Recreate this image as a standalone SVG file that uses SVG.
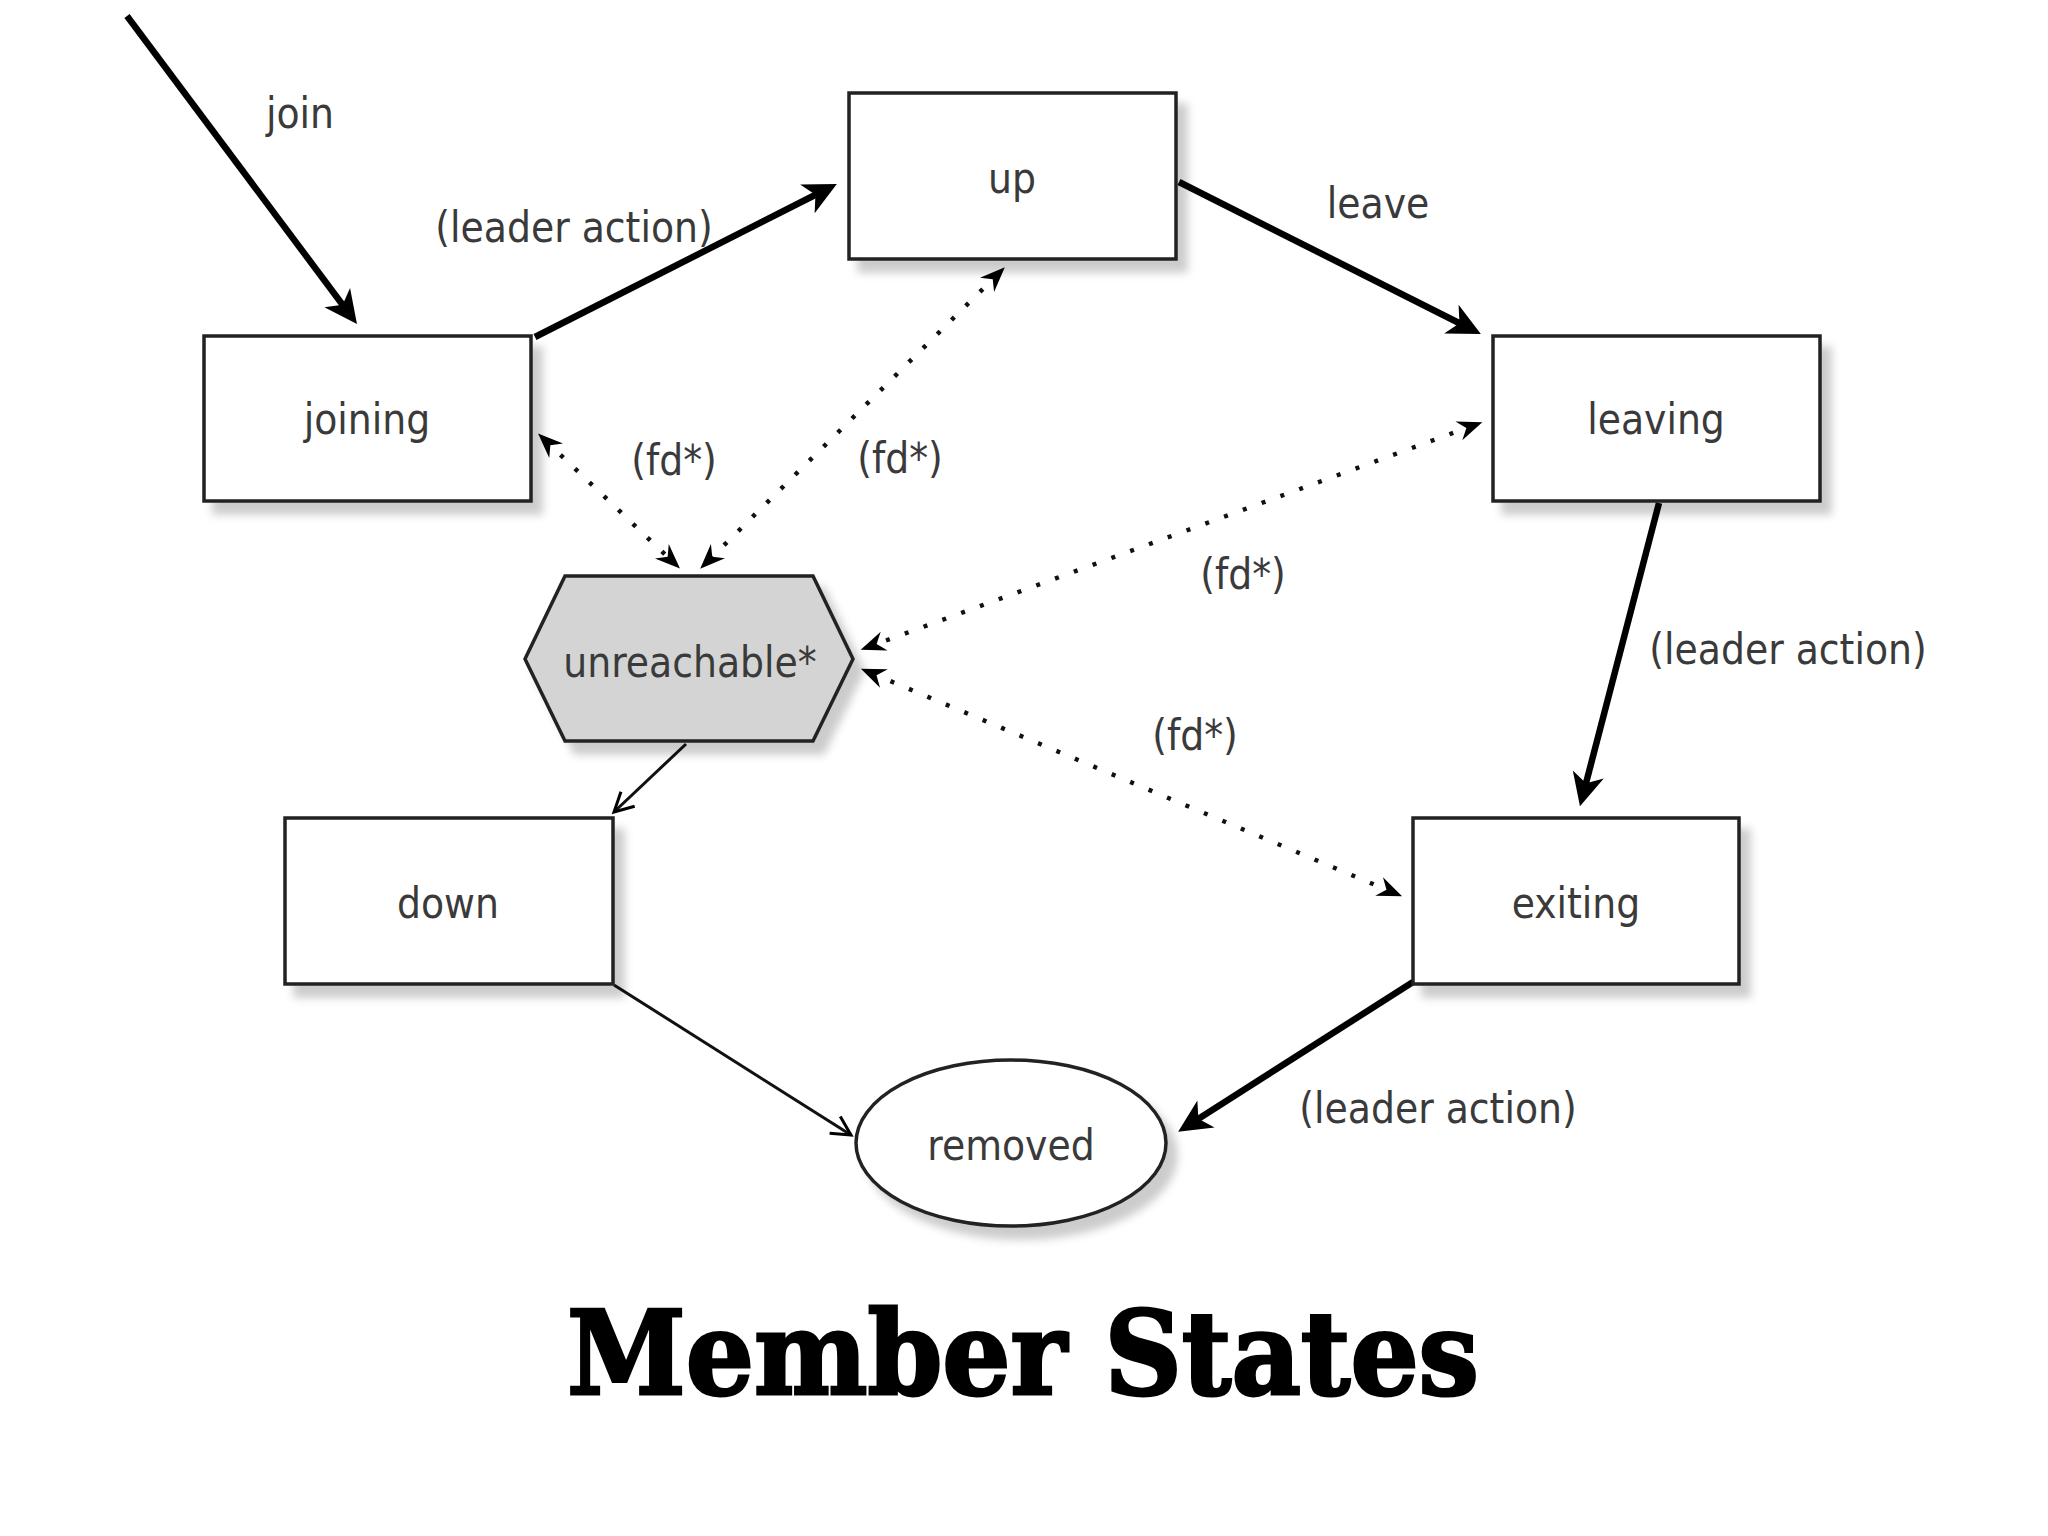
<svg xmlns="http://www.w3.org/2000/svg" width="2048" height="1536" viewBox="0 0 2048 1536">
  <defs>
    <filter id="shadow" x="-10%" y="-10%" width="130%" height="140%">
      <feDropShadow dx="10" dy="12" stdDeviation="4" flood-color="#000" flood-opacity="0.2"/>
    </filter>
    <marker id="thick" markerUnits="userSpaceOnUse" viewBox="-20 -20 44 40" markerWidth="44" markerHeight="40" refX="0" refY="0" orient="auto">
      <path d="M20,0 L-13,-16 L-4,0 L-13,16 Z" fill="#000"/>
    </marker>
    <marker id="open" markerUnits="userSpaceOnUse" viewBox="-24 -14 28 28" markerWidth="28" markerHeight="28" refX="0" refY="0" orient="auto">
      <path d="M-19,-10 L0,0 L-19,10" fill="none" stroke="#000" stroke-width="3"/>
    </marker>
    <marker id="dot" markerUnits="userSpaceOnUse" viewBox="-18 -14 32 28" markerWidth="32" markerHeight="28" refX="0" refY="0" orient="auto-start-reverse">
      <path d="M11,0 L-14,-10 L-6,0 L-14,10 Z" fill="#000"/>
    </marker>
  </defs>
  <style>
    .box { fill: #fff; stroke: #222; stroke-width: 3.5; filter: url(#shadow); }
    .hex { fill: #d4d4d4; stroke: #222; stroke-width: 3.5; filter: url(#shadow); }
    .lbl { font-family: "DejaVu Sans Condensed", "DejaVu Sans", sans-serif; font-stretch: condensed; font-size: 42px; fill: #3a3a3a; text-anchor: middle; }
    .thick { stroke: #000; stroke-width: 6.5; fill: none; marker-end: url(#thick); }
    .thin { stroke: #111; stroke-width: 3; fill: none; marker-end: url(#open); }
    .dotted { stroke: #111; stroke-width: 4.5; fill: none; stroke-dasharray: 4 16; marker-start: url(#dot); marker-end: url(#dot); }
    .title { font-family: "DejaVu Serif", "Liberation Serif", serif; font-weight: bold; font-size: 116px; fill: #000; stroke: #000; stroke-width: 3; text-anchor: middle; }
  </style>
  <rect width="2048" height="1536" fill="#fff"/>

  <g id="connectors">
    <line class="thick" x1="127" y1="16" x2="345" y2="308"/>
    <line class="thick" x1="535" y1="337" x2="819" y2="193"/>
    <line class="thick" x1="1179" y1="182" x2="1463" y2="325"/>
    <line class="thick" x1="1659" y1="503" x2="1585" y2="787"/>
    <line class="thick" x1="1413" y1="982" x2="1195" y2="1121"/>
    <line class="thin" x1="686" y1="744" x2="614" y2="812"/>
    <line class="thin" x1="614" y1="985" x2="851" y2="1135"/>
    <line class="dotted" x1="546" y1="441" x2="672" y2="561"/>
    <line class="dotted" x1="997" y1="275" x2="708" y2="561"/>
    <line class="dotted" x1="1472" y1="426" x2="871" y2="646"/>
    <line class="dotted" x1="1392" y1="892" x2="871" y2="673"/>
    <text class="lbl" x="300" y="128">join</text>
    <text class="lbl" x="574" y="242">(leader action)</text>
    <text class="lbl" x="1378" y="218">leave</text>
    <text class="lbl" x="674" y="475">(fd*)</text>
    <text class="lbl" x="900" y="473">(fd*)</text>
    <text class="lbl" x="1243" y="589">(fd*)</text>
    <text class="lbl" x="1195" y="750">(fd*)</text>
    <text class="lbl" x="1788" y="664">(leader action)</text>
    <text class="lbl" x="1438" y="1123">(leader action)</text>
  </g>

  <g id="node-up">
    <rect class="box" x="849" y="93" width="327" height="166"/>
    <text class="lbl" x="1012" y="193">up</text>
  </g>
  <g id="node-joining">
    <rect class="box" x="204" y="336" width="327" height="165"/>
    <text class="lbl" x="367" y="434">joining</text>
  </g>
  <g id="node-leaving">
    <rect class="box" x="1493" y="336" width="327" height="165"/>
    <text class="lbl" x="1656" y="434">leaving</text>
  </g>
  <g id="node-unreachable">
    <polygon class="hex" points="525,659 565,576 813,576 853,659 813,741 565,741"/>
    <text class="lbl" x="690" y="677">unreachable*</text>
  </g>
  <g id="node-down">
    <rect class="box" x="285" y="818" width="328" height="166"/>
    <text class="lbl" x="448" y="918">down</text>
  </g>
  <g id="node-exiting">
    <rect class="box" x="1413" y="818" width="326" height="166"/>
    <text class="lbl" x="1576" y="918">exiting</text>
  </g>
  <g id="node-removed">
    <ellipse class="box" cx="1011" cy="1143" rx="155" ry="83"/>
    <text class="lbl" x="1011" y="1160">removed</text>
  </g>

  <text class="title" x="1023" y="1394" textLength="912" lengthAdjust="spacingAndGlyphs">Member States</text>
</svg>
